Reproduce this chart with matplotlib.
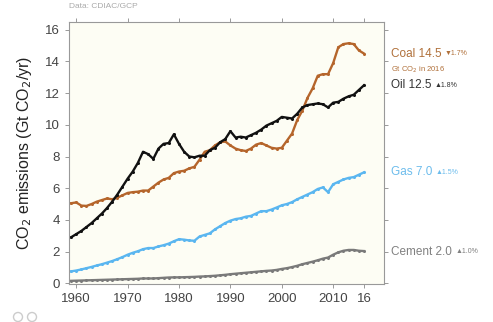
import numpy as np
import matplotlib
matplotlib.use("Agg")
import matplotlib.pyplot as plt
from matplotlib.patches import Ellipse

plt.rcParams['font.family'] = ['Liberation Sans', 'DejaVu Sans']

years = np.arange(1959, 2017)

coal = [5.05, 5.10, 4.90, 4.88, 5.00, 5.15, 5.25, 5.35, 5.30, 5.40,
        5.55, 5.70, 5.75, 5.78, 5.85, 5.85, 6.10, 6.35, 6.55, 6.65,
        6.95, 7.05, 7.10, 7.25, 7.35, 7.80, 8.30, 8.40, 8.70, 8.90,
        8.95, 8.70, 8.50, 8.40, 8.35, 8.50, 8.75, 8.85, 8.70, 8.55,
        8.50, 8.55, 9.00, 9.45, 10.30, 10.90, 11.70, 12.30, 13.10, 13.20,
        13.20, 13.90, 14.90, 15.10, 15.15, 15.10, 14.70, 14.50]

oil = [2.90, 3.10, 3.30, 3.55, 3.80, 4.10, 4.40, 4.75, 5.15, 5.60,
       6.10, 6.60, 7.05, 7.60, 8.30, 8.15, 7.85, 8.50, 8.80, 8.85,
       9.40, 8.80, 8.30, 8.00, 7.95, 8.05, 8.05, 8.40, 8.55, 8.90,
       9.10, 9.60, 9.20, 9.25, 9.20, 9.35, 9.50, 9.70, 9.95, 10.10,
       10.25, 10.50, 10.45, 10.40, 10.70, 11.10, 11.25, 11.30, 11.35, 11.30,
       11.10, 11.40, 11.45, 11.65, 11.80, 11.90, 12.20, 12.50]

gas = [0.75, 0.80, 0.87, 0.95, 1.03, 1.12, 1.20, 1.30, 1.40, 1.52,
       1.65, 1.80, 1.92, 2.02, 2.15, 2.22, 2.22, 2.32, 2.40, 2.50,
       2.65, 2.78, 2.75, 2.70, 2.68, 2.95, 3.05, 3.15, 3.40, 3.60,
       3.80, 3.95, 4.05, 4.10, 4.20, 4.25, 4.40, 4.55, 4.55, 4.65,
       4.78, 4.92, 5.00, 5.12, 5.30, 5.45, 5.60, 5.75, 5.95, 6.05,
       5.75, 6.25, 6.40, 6.55, 6.65, 6.70, 6.85, 7.00]

cement = [0.15, 0.16, 0.17, 0.18, 0.19, 0.20, 0.21, 0.22, 0.23, 0.24,
          0.25, 0.26, 0.27, 0.28, 0.30, 0.30, 0.30, 0.32, 0.34, 0.36,
          0.37, 0.37, 0.38, 0.39, 0.40, 0.42, 0.43, 0.45, 0.47, 0.50,
          0.53, 0.57, 0.60, 0.63, 0.66, 0.69, 0.72, 0.75, 0.78, 0.80,
          0.84, 0.90, 0.95, 1.02, 1.10, 1.20, 1.28, 1.36, 1.45, 1.55,
          1.62, 1.80, 1.95, 2.05, 2.10, 2.10, 2.05, 2.03]

names = ['Coal', 'Oil', 'Gas', 'Cement']
series = [coal, oil, gas, cement]
colors = ['#b5652b', '#111111', '#5ab6f0', '#7a7a7a']
text_colors = ['#b0703a', '#333333', '#6cbcec', '#808080']
values_2016 = ['14.5', '12.5', '7.0', '2.0']
changes = ['\u25bc1.7%', '\u25b21.8%', '\u25b21.5%', '\u25b21.0%']

fig = plt.figure(figsize=(4.93, 3.22), dpi=100)
ax = fig.add_axes([0.140, 0.118, 0.639, 0.814])
ax.set_facecolor('#fdfdf4')

for vals, c in zip(series, colors):
    ax.plot(years, vals, color=c, lw=1.7, marker='o', ms=2.2, mew=0)

ax.set_xlim(1958.6, 2019.9)
ax.set_ylim(-0.05, 16.5)
ax.set_xticks([1960, 1970, 1980, 1990, 2000, 2010, 2016])
ax.set_xticklabels(['1960', '1970', '1980', '1990', '2000', '2010', '16'])
ax.set_yticks(range(0, 17, 2))
ax.tick_params(axis='both', colors='#999999', labelcolor='#444444',
               labelsize=9.5, length=3, width=0.7, direction='out',
               top=True, right=True)
for s in ax.spines.values():
    s.set_color('#999999')
    s.set_linewidth(0.8)

ax.set_ylabel('CO$_2$ emissions (Gt CO$_2$/yr)', fontsize=11.5,
              color='#222222', labelpad=8)

ax.text(0.0, 1.045, 'Data: CDIAC/GCP', transform=ax.transAxes,
        fontsize=6, color='#aaaaaa', va='bottom', ha='left')

tr = ax.get_yaxis_transform()
for name, v, chg, tc in zip(names, values_2016, changes, text_colors):
    y = float(v)
    t = ax.text(1.022, y, f'{name} {v} ', transform=tr, fontsize=8.5,
                color=tc, va='center', ha='left')
    fig.canvas.draw()
    bb = t.get_window_extent().transformed(ax.transAxes.inverted())
    ax.text(bb.x1, y, chg, transform=tr, fontsize=5, color=tc,
            va='center', ha='left')
ax.text(1.022, 13.5, 'Gt CO$_2$ in 2016', transform=tr, fontsize=5.5,
        color='#b0703a', va='center', ha='left')

for px in (18, 32):
    fig.add_artist(Ellipse((px / 493, 1 - 317 / 322), 9 / 493, 9 / 322,
                           transform=fig.transFigure, fill=False,
                           ec='#cccccc', lw=1))

fig.savefig('out.png', dpi=100)
